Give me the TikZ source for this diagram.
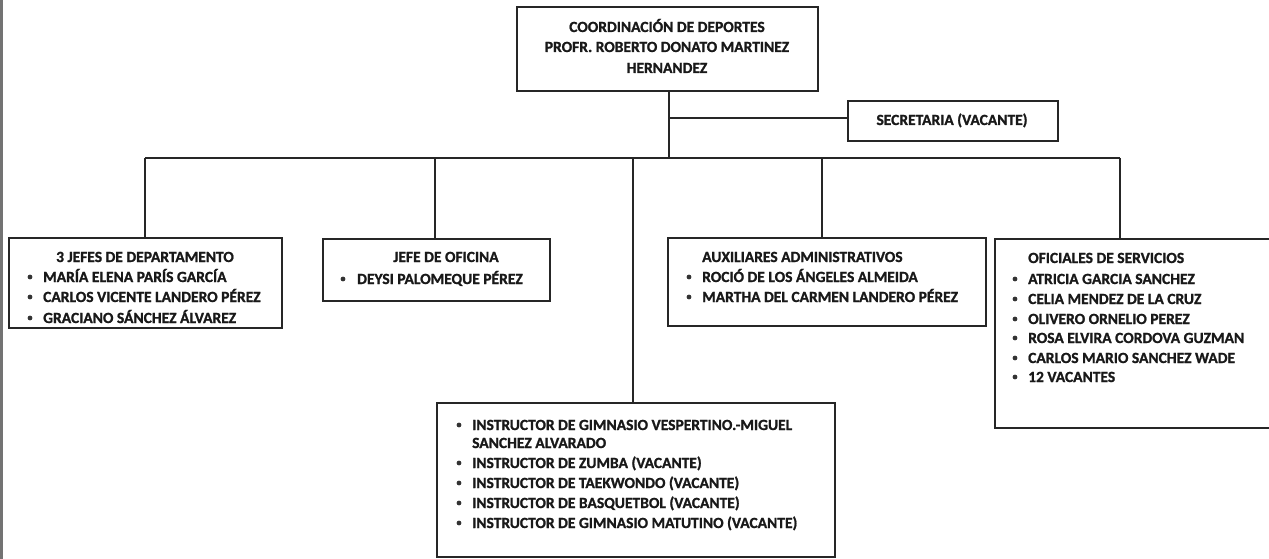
\documentclass[tikz,border=0pt]{standalone}
\usepackage{fontspec}
\setmainfont{Carlito}[BoldFeatures={FakeBold=1.2}]
\begin{document}
\begin{tikzpicture}[x=1pt,y=-1pt,
  ink/.style={draw=black!85, line width=1.3pt},
  box/.style={ink, fill=white},
  wire/.style={draw=black!85, line width=1.1pt},
  txt/.style={inner sep=0pt, font=\bfseries\fontsize{15.5}{20}\selectfont, text=black!90},
  dot/.style={fill=black!80}
]
\useasboundingbox (0,0) rectangle (1269,559);
\fill[white] (0,0) rectangle (1269,559);
% dark page edge on the left
\fill[black!55] (0,0) rectangle (3,559);

% boxes
\draw[box] (517,7) rectangle (818,91);
\coordinate (topS) at (669,91);
\draw[box] (848,101) rectangle (1058,141);
\coordinate (secW) at (848,118);
\draw[box] (9,238) rectangle (282,328);
\draw[box] (323,239) rectangle (550,301);
\draw[box] (668,238) rectangle (986,326);
\draw[box] (995,239) rectangle (1275,428);
\draw[box] (437,403) rectangle (835,557);

% connectors
\coordinate (busL) at (145,158);
\coordinate (busR) at (1120,158);
\coordinate (busC) at (669,158);
\coordinate (secJ) at (669,118);
\draw[wire] (topS) -- (busC);
\draw[wire] (secJ) -- (secW);
\draw[wire] (busL) -- (busR);
\draw[wire] (busL) -- (145,238);
\draw[wire] (435,158) -- (435,239);
\draw[wire] (633,158) -- (633,403);
\draw[wire] (822,158) -- (822,238);
\draw[wire] (busR) -- (1120,239);

% top box text
\node[txt, anchor=base] (t1) at (667,32) {COORDINACIÓN DE DEPORTES};
\node[txt, anchor=base] (t2) at (667,52) {PROFR. ROBERTO DONATO MARTINEZ};
\node[txt, anchor=base] (t3) at (667,73) {HERNANDEZ};
\node[txt, anchor=base] (sec) at (952,125) {SECRETARIA (VACANTE)};

% jefes de departamento
\node[txt, anchor=base] (a0) at (145,262) {3 JEFES DE DEPARTAMENTO};
\foreach \y/\n/\s in {282/a1/MARÍA ELENA PARÍS GARCÍA, 302/a2/CARLOS VICENTE LANDERO PÉREZ, 323/a3/GRACIANO SÁNCHEZ ÁLVAREZ}{
  \fill[dot] (30,\y-5) circle (2.4);
  \node[txt, anchor=base west] (\n) at (43,\y) {\s};
}

% jefe de oficina
\node[txt, anchor=base] (b0) at (446,262) {JEFE DE OFICINA};
\fill[dot] (343,279) circle (2.4);
\node[txt, anchor=base west] (b1) at (357,284) {DEYSI PALOMEQUE PÉREZ};

% auxiliares
\node[txt, anchor=base west] (c0) at (702,262) {AUXILIARES ADMINISTRATIVOS};
\foreach \y/\n/\s in {282/c1/ROCIÓ DE LOS ÁNGELES ALMEIDA, 302/c2/MARTHA DEL CARMEN LANDERO PÉREZ}{
  \fill[dot] (689,\y-5) circle (2.4);
  \node[txt, anchor=base west] (\n) at (702,\y) {\s};
}

% oficiales de servicios
\node[txt, anchor=base west] (d0) at (1028,263) {OFICIALES DE SERVICIOS};
\foreach \y/\n/\s in {284/d1/ATRICIA GARCIA SANCHEZ, 304/d2/CELIA MENDEZ DE LA CRUZ, 324/d3/OLIVERO ORNELIO PEREZ, 343/d4/ROSA ELVIRA CORDOVA GUZMAN, 363/d5/CARLOS MARIO SANCHEZ WADE, 382/d6/12 VACANTES}{
  \fill[dot] (1015,\y-5) circle (2.4);
  \node[txt, anchor=base west] (\n) at (1028,\y) {\s};
}

% instructores
\fill[dot] (459,425) circle (2.4);
\node[txt, anchor=base west] (e1) at (472,430) {INSTRUCTOR DE GIMNASIO VESPERTINO.-MIGUEL};
\node[txt, anchor=base west] (e1b) at (472,448) {SANCHEZ ALVARADO};
\foreach \y/\n/\s in {468/e2/INSTRUCTOR DE ZUMBA (VACANTE), 488/e3/INSTRUCTOR DE TAEKWONDO (VACANTE), 508/e4/INSTRUCTOR DE BASQUETBOL (VACANTE), 528/e5/INSTRUCTOR DE GIMNASIO MATUTINO (VACANTE)}{
  \fill[dot] (459,\y-5) circle (2.4);
  \node[txt, anchor=base west] (\n) at (472,\y) {\s};
}
\end{tikzpicture}
\end{document}
